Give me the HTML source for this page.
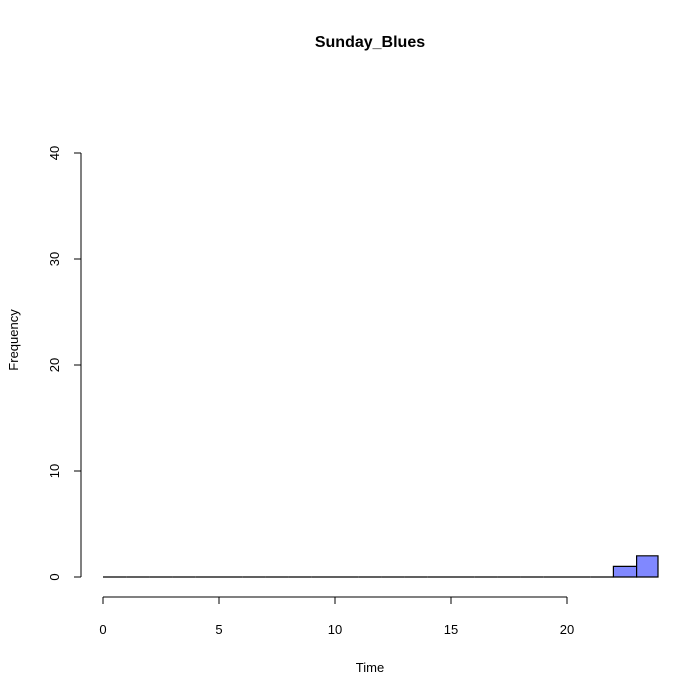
<!DOCTYPE html>
<html><head><meta charset="utf-8"><style>body{margin:0;background:#fff}svg{display:block}text{font-family:"Liberation Sans","DejaVu Sans",sans-serif;font-size:13px;fill:#000}</style></head>
<body>
<svg id="c" width="699" height="699">
<text x="370" y="47" text-anchor="middle" style="font-weight:bold;font-size:16px">Sunday_Blues</text>
<text x="370" y="672" text-anchor="middle">Time</text>
<text transform="translate(18,340) rotate(-90)" text-anchor="middle">Frequency</text>
<g id="plot"></g>
</svg>
<script>
const binStarts=[0,1,2,3,4,5,6,7,8,9,10,11,12,13,14,15,16,17,18,19,20,21,22,23];
const counts=[0,0,0,0,0,0,0,0,0,0,0,0,0,0,0,0,0,0,0,0,0,0,1,2];
const xTicks=[0,5,10,15,20];
const yTicks=[0,10,20,30,40];
const NS="http://www.w3.org/2000/svg";
const g=document.getElementById('plot');
const xs=v=>103+v*23.2;
const ys=v=>577-v*10.6;
function mk(t,a){const e=document.createElementNS(NS,t);for(const k in a)e.setAttribute(k,a[k]);g.appendChild(e);return e;}
const clip=658;
binStarts.forEach((b,i)=>{
 const x0=xs(b),x1=Math.min(xs(b+1),clip),y0=ys(0),y1=ys(counts[i]);
 const r=mk('path',{d:`M${x0},${y0}L${x0},${y1}L${x1},${y1}L${x1},${y0}Z`,fill:'#8088ff',stroke:'#000','stroke-width':1.2});
 
 
});
let a=mk('line',{x1:xs(0),x2:xs(20),y1:597,y2:597,stroke:'#000'});


xTicks.forEach(v=>{
 mk('line',{x1:xs(v),x2:xs(v),y1:597,y2:604,stroke:'#000'});
 const t=mk('text',{x:xs(v),y:634,'text-anchor':'middle'});t.textContent=v;
 
 
});
a=mk('line',{x1:81,x2:81,y1:ys(40),y2:ys(0),stroke:'#000'});


yTicks.forEach(v=>{
 mk('line',{x1:74,x2:81,y1:ys(v),y2:ys(v),stroke:'#000'});
 const t=mk('text',{transform:`translate(59,${ys(v)}) rotate(-90)`,'text-anchor':'middle'});t.textContent=v;
 
 
});
</script>
</body></html>
